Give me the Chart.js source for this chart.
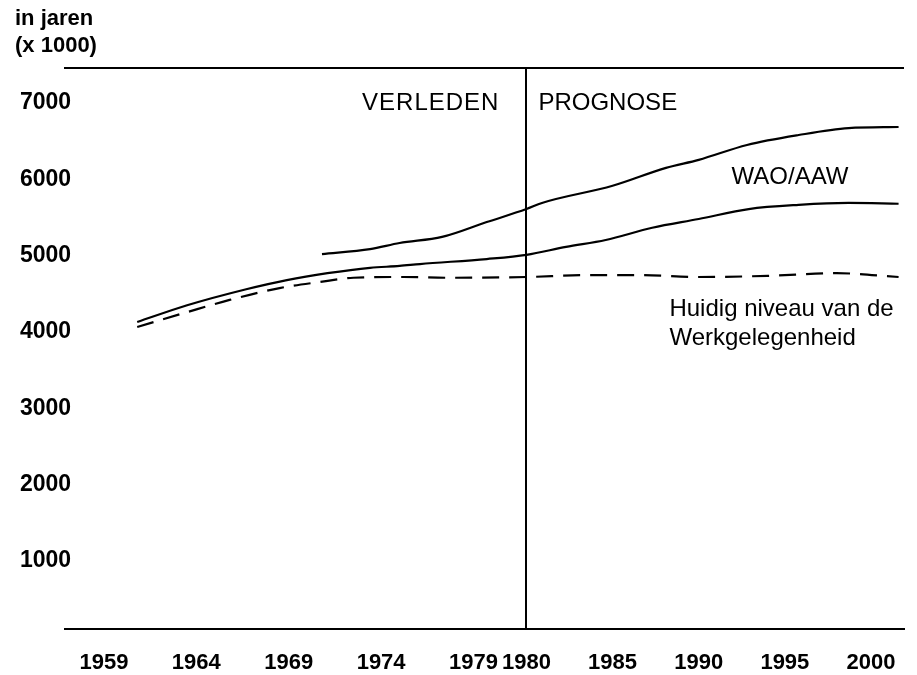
<!DOCTYPE html>
<html>
<head>
<meta charset="utf-8">
<script src="https://cdn.jsdelivr.net/npm/chart.js@4.4.0/dist/chart.umd.min.js"></script>
<style>
  body{margin:0;background:#fff;}
  #wrap{width:917px;height:675px;}
</style>
</head>
<body>
<div id="wrap"><canvas id="chart" width="917" height="675"></canvas></div>
<script>
// tick labels
const xTickYears = [1959,1964,1969,1974,1979,1980,1985,1990,1995,2000];
const yTickValues = [1000,2000,3000,4000,5000,6000,7000];

// onderste doorgetrokken lijn
const beroepsJaren = [1960.8,1963.5,1966.7,1968.9,1971.1,1973.4,1975.0,1976.1,1979.25,1980.0,1982.3,1984.6,1987.3,1990.0,1992.9,1995.8,1998.7,2001.6];
const beroepsWaarden = [4130,4350,4560,4680,4770,4840,4865,4890,4955,5010,5115,5205,5365,5480,5610,5665,5690,5680];

// bovenste lijn (incl. WAO/AAW)
const waoJaren = [1970.8,1973.4,1975.0,1977.3,1979.25,1980.0,1980.9,1985.0,1988.1,1990.0,1992.8,1995.8,1998.7,2001.6];
const waoWaarden = [5020,5085,5165,5245,5440,5610,5690,5915,6150,6255,6450,6580,6670,6685];

// huidig niveau werkgelegenheid (gestreept)
const werkJaren = [1960.8,1963.5,1965.8,1968.5,1970.7,1972.5,1975.2,1977.7,1980.0,1983.5,1986.6,1989.9,1994.0,1998.0,2001.6];
const werkWaarden = [4065,4260,4420,4575,4655,4710,4720,4710,4720,4745,4745,4720,4735,4770,4720];

// gebroken x-as: verleden en prognose hebben elk hun eigen schaal
const VERLEDEN_STAP = 1;      // per 5 jaar
const OVERGANG = 0.573;       // 1979 -> 1980
const PROGNOSE_STAP = 0.9324; // per 5 jaar
function axisPos(jaar){
  if(jaar<=1979) return (jaar-1959)/5*VERLEDEN_STAP;
  if(jaar<=1980) return 4*VERLEDEN_STAP+(jaar-1979)*OVERGANG;
  return 4*VERLEDEN_STAP+OVERGANG+(jaar-1980)/5*PROGNOSE_STAP;
}
function punten(jaren,waarden){
  return jaren.map((j,i)=>({x:axisPos(j),y:waarden[i]}));
}

const FONT = '"Liberation Sans", Arial, sans-serif';
const X_MIN = -0.4216, X_MAX = 8.6595;

const tekstPlugin = {
  id:'teksten',
  afterDraw(chart){
    const ctx = chart.ctx;
    const x = chart.scales.x, y = chart.scales.y;
    ctx.save();
    ctx.fillStyle='#000';
    ctx.font='bold 22px '+FONT;
    ctx.textAlign='left';
    ctx.textBaseline='alphabetic';
    ctx.fillText('in jaren',15,25);
    ctx.fillText('(x 1000)',15,52);

    ctx.font='24px '+FONT;
    ctx.textBaseline='middle';
    const grens = x.getPixelForValue(axisPos(1980));
    const boven = y.getPixelForValue(7000);
    ctx.textAlign='right';
    ctx.letterSpacing='1px';
    ctx.fillText('VERLEDEN',grens-27,boven);
    ctx.letterSpacing='0px';
    ctx.textAlign='left';
    ctx.fillText('PROGNOSE',grens+12,boven);

    ctx.textAlign='center';
    ctx.fillText('WAO/AAW',x.getPixelForValue(axisPos(1995.3)),y.getPixelForValue(6030));

    ctx.textAlign='left';
    const lx = x.getPixelForValue(axisPos(1988.3));
    ctx.fillText('Huidig niveau van de',lx,y.getPixelForValue(4300));
    ctx.fillText('Werkgelegenheid',lx,y.getPixelForValue(3910));
    ctx.restore();
  }
};

const lijn = {
  borderColor:'#000',
  borderWidth:2.2,
  pointRadius:0,
  fill:false,
  cubicInterpolationMode:'monotone'
};

new Chart(document.getElementById('chart'),{
  type:'line',
  data:{
    datasets:[
      Object.assign({label:'beroepsbevolking',data:punten(beroepsJaren,beroepsWaarden)},lijn),
      Object.assign({label:'WAO/AAW',data:punten(waoJaren,waoWaarden)},lijn),
      Object.assign({label:'werkgelegenheid',data:punten(werkJaren,werkWaarden),borderDash:[17,10]},lijn)
    ]
  },
  options:{
    responsive:false,
    animation:false,
    layout:{padding:{top:68,right:12,left:0,bottom:0}},
    plugins:{legend:{display:false},tooltip:{enabled:false}},
    scales:{
      x:{
        type:'linear',
        position:'bottom',
        min:X_MIN,
        max:X_MAX,
        afterBuildTicks(s){ s.ticks = xTickYears.map(j=>({value:axisPos(j)})); },
        afterFit(s){ s.height = 46; },
        ticks:{
          callback:(v,i)=>xTickYears[i],
          autoSkip:false,
          maxRotation:0,
          padding:21,
          color:'#000',
          font:{family:FONT,size:22,weight:'bold'}
        },
        grid:{
          drawTicks:false,
          lineWidth:2,
          color:(c)=> (c.tick && c.tick.value===axisPos(1980)) ? '#000' : 'rgba(0,0,0,0)'
        },
        border:{display:true,color:'#000',width:2}
      },
      x2:{
        type:'linear',
        position:'top',
        min:X_MIN,
        max:X_MAX,
        afterFit(s){ s.height = 0; },
        ticks:{display:false},
        grid:{display:false},
        border:{display:true,color:'#000',width:2}
      },
      y:{
        min:109,
        max:7458,
        afterBuildTicks(s){ s.ticks = yTickValues.map(v=>({value:v})); },
        afterFit(s){ s.width = 65; },
        ticks:{
          callback:(v)=>String(v),
          mirror:true,
          crossAlign:'far',
          padding:-45,
          color:'#000',
          font:{family:FONT,size:23,weight:'bold'}
        },
        grid:{display:false,drawTicks:false},
        border:{display:false}
      }
    }
  },
  plugins:[tekstPlugin]
});
</script>
</body>
</html>
